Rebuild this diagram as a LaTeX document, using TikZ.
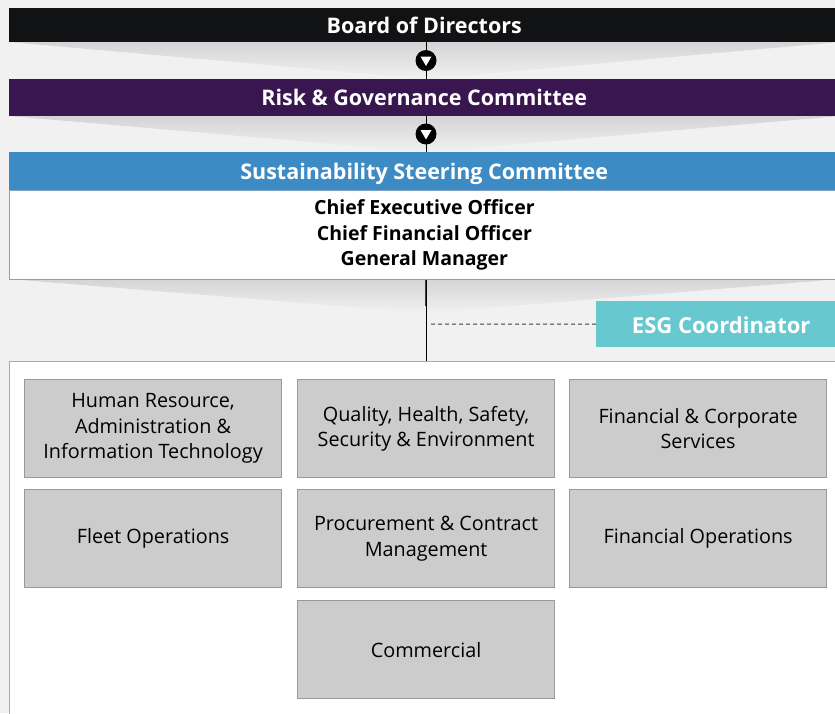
\documentclass[tikz,border=0pt]{standalone}
\usepackage{fontspec}
\setmainfont{Open Sans}
\definecolor{bg}{HTML}{F1F1F1}
\definecolor{funtop}{HTML}{D4D4D6}
\definecolor{boardc}{HTML}{111214}
\definecolor{riskc}{HTML}{3A1650}
\definecolor{sscc}{HTML}{3D8BC4}
\definecolor{sscline}{HTML}{7FA3C0}
\definecolor{esgc}{HTML}{68C8D0}
\definecolor{unitfill}{HTML}{CCCCCC}
\definecolor{unitline}{HTML}{999999}
\definecolor{outerline}{HTML}{AAAAAA}
\tikzset{
  bar/.style={anchor=north west, minimum width=830pt, inner sep=0pt, text=white,
    font=\fontsize{21.5}{25}\selectfont\bfseries},
  marker/.style={circle, fill=black, minimum size=21pt, inner sep=0pt},
  unit/.style={anchor=north west, fill=unitfill, draw=unitline, line width=1.2pt,
    minimum width=257pt, minimum height=98pt, inner sep=0pt, align=center,
    font=\fontsize{19.8}{25.5}\selectfont},
  funnel/.style={top color=funtop, bottom color=bg, draw=none}
}
\begin{document}
\begin{tikzpicture}[x=1pt,y=-1pt]
\useasboundingbox (0,0) rectangle (835,713);
\fill[bg] (0,0) rectangle (835,713);
\clip (0,0) rectangle (835,713);
% funnels
\shade[funnel] (9,42) -- (840,42) -- (426,79) -- cycle;
\shade[funnel] (9,116) -- (840,116) -- (426,152) -- cycle;
\shade[funnel] (9,279) -- (840,279) -- (426,313) -- cycle;
% bars
\node[bar, fill=boardc, minimum height=34pt] (board) at (9,8) {Board of Directors};
\node[bar, fill=riskc, minimum height=37pt, text height=22pt, text depth=5.5pt] (risk) at (9,79) {Risk \& Governance Committee};
\node[bar, fill=sscc, minimum height=38pt, text height=23pt, text depth=5.5pt] (ssc) at (9,152) {Sustainability Steering Committee};
\node[anchor=north west, fill=white, draw=sscline, line width=0.8pt, minimum width=830pt,
  minimum height=89pt, inner sep=0pt, align=center,
  font=\fontsize{19.5}{25.5}\selectfont\bfseries] (sscbody) at (9,190)
  {Chief Executive Officer\\Chief Financial Officer\\General Manager};
% connectors top
\draw[line width=1pt] (board.south -| 426,0) -- (risk.north -| 426,0);
\draw[line width=1pt] (risk.south -| 426,0) -- (ssc.north -| 426,0);
\node[marker] (m1) at (426,60.5) {};
\fill[white] ([shift={(-5.5,-4)}]m1.center) -- ([shift={(5.5,-4)}]m1.center) -- ([shift={(0,5.5)}]m1.center) -- cycle;
\node[marker] (m2) at (426,134) {};
\fill[white] ([shift={(-5.5,-4)}]m2.center) -- ([shift={(5.5,-4)}]m2.center) -- ([shift={(0,5.5)}]m2.center) -- cycle;
% ESG
\node[anchor=north west, fill=esgc, minimum width=250pt, minimum height=46pt, inner sep=0pt,
  text height=24pt, text depth=5.5pt,
  text=white, font=\fontsize{22}{25}\selectfont\bfseries] (esg) at (596,301) {ESG Coordinator};
% outer box
\node[anchor=north west, fill=white, draw=outerline, line width=1pt, minimum width=835pt,
  minimum height=360pt, inner sep=0pt] (outer) at (9,361) {};
% vertical line to units
\coordinate (split) at (426,324);
\draw[line width=2.5pt, black!75] (sscbody.south -| 426,0) -- (426,306);
\draw[line width=1pt] (sscbody.south -| 426,0) -- (outer.north -| 426,0);
\draw[dashed, black!75, line width=1pt, dash pattern=on 4pt off 3pt] ([xshift=5pt]split) -- (esg.west);
% units
\node[unit] (hr) at (24,379) {Human Resource,\\Administration \&\\Information Technology};
\node[unit] (qhse) at (297,379) {Quality, Health, Safety,\\Security \& Environment};
\node[unit] (fcs) at (569,379) {Financial \& Corporate\\Services};
\node[unit] (fleet) at (24,489) {Fleet Operations};
\node[unit] (proc) at (297,489) {Procurement \& Contract\\Management};
\node[unit] (finops) at (569,489) {Financial Operations};
\node[unit] (comm) at (297,600) {Commercial};
\end{tikzpicture}
\end{document}
